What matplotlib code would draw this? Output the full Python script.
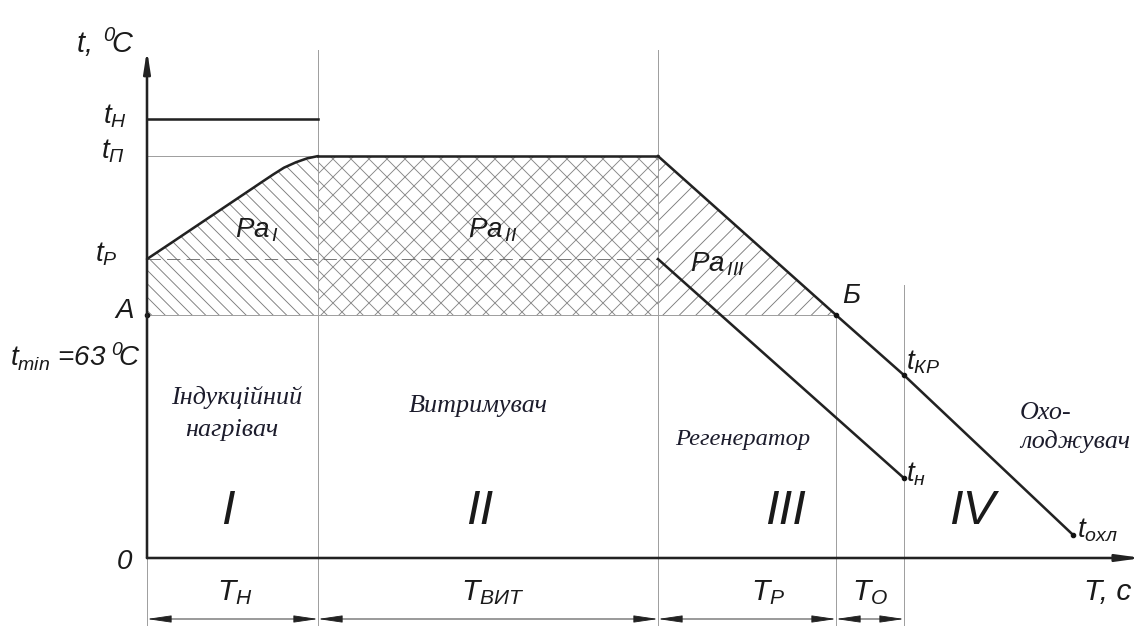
import matplotlib
matplotlib.use('Agg')
import matplotlib.pyplot as plt
import numpy as np
from matplotlib.patches import Polygon
from matplotlib.collections import LineCollection

# ---------------- data (schematic units: T in s, t in degC) ----------------
T_bounds = [0.0, 17.1, 51.1, 68.9, 75.7]           # zone boundaries (T_Н, T_ВИТ, T_Р, T_О)
t_N = 113.8                                         # t_Н  (heater medium)
t_Pi = 104.2                                        # t_П  (pasteurization)
t_Rg = 77.5                                         # t_Р  (after regeneration)
t_min = 63.0                                        # t_min
T_heat = [0.0, 2.6, 5.3, 8.0, 10.7, 11.5, 12.6, 13.7, 14.9, 16.0, 17.1]
t_heat = [77.5, 82.0, 86.7, 91.4, 96.1, 97.5, 99.4, 101.2, 102.6, 103.6, 104.2]
T_cool = [51.1, 68.9, 75.7, 92.6]                   # hot line: end of hold -> Б -> t_КР -> t_охл
t_cool = [104.2, 63.0, 47.4, 6.0]
T_prod = [51.1, 75.7]                               # product line t_Р -> t_н
t_prod = [77.5, 20.7]
T_axis_end, t_axis_end = 99.5, 131.7
zone_names = ['I', 'II', 'III', 'IV']

DPI = 80
plt.rcParams['mathtext.fontset'] = 'custom'
plt.rcParams['mathtext.it'] = 'Liberation Sans:italic'
plt.rcParams['mathtext.rm'] = 'Liberation Sans:italic'
plt.rcParams['mathtext.default'] = 'it'

fig = plt.figure(figsize=(1144 / DPI, 626 / DPI), dpi=DPI)
ax = fig.add_axes([0, 0, 1, 1])
X0, Y0, SX, SY = 147, 558, 10.0, 243 / 63


def px(x, y):
    return ((x - X0) / SX, (Y0 - y) / SY)


ax.set_xlim(px(0, 0)[0], px(1144, 0)[0])
ax.set_ylim(px(0, 626)[1], px(0, 0)[1])
ax.axis('off')

GRAY = '#a0a0a0'
HATCH = '#7a7a7a'
thin = 0.9
thick = 2.3
ybot = px(0, 626)[1]


def hatch(poly, spacing, dirs, color=HATCH, lw=0.8):
    patch = Polygon(poly, closed=True, facecolor='none', edgecolor='none')
    ax.add_patch(patch)
    segs = []
    for d in dirs:  # d=+1: '/' ; d=-1: '\'
        for c in np.arange(-1200, 2400, spacing):
            if d > 0:
                segs.append([px(0, c), px(1144, c - 1144)])
            else:
                segs.append([px(0, c), px(1144, c + 1144)])
    lc = LineCollection(segs, colors=color, linewidths=lw)
    ax.add_collection(lc)
    lc.set_clip_path(patch)


# hatched regions
poly1 = list(zip(T_heat, t_heat)) + [(T_bounds[1], t_min), (T_bounds[0], t_min)]
hatch(poly1, 13.5, [-1])
poly2 = [(T_bounds[1], t_min), (T_bounds[2], t_min), (T_bounds[2], t_Pi), (T_bounds[1], t_Pi)]
hatch(poly2, 18.0, [1, -1], color='#858585')
poly3 = [(T_cool[0], t_cool[0]), (T_cool[1], t_cool[1]), (T_bounds[2], t_min)]
hatch(poly3, 16.5, [1])

# thin gray guide lines
ax.plot([T_bounds[0], T_bounds[3]], [t_min, t_min], color=GRAY, lw=thin)
ax.plot([T_bounds[0], T_bounds[1]], [t_Pi, t_Pi], color=GRAY, lw=thin)
for Tb in T_bounds[1:3]:
    ax.plot([Tb, Tb], [ybot, t_axis_end], color=GRAY, lw=thin)
ax.plot([T_bounds[3], T_bounds[3]], [ybot, t_min], color=GRAY, lw=thin)
ax.plot([T_bounds[4], T_bounds[4]], [ybot, 70.8], color=GRAY, lw=thin)
ax.plot([T_bounds[0], T_bounds[0]], [ybot, 0], color=GRAY, lw=thin)
ax.plot([T_bounds[0], T_bounds[2]], [t_Rg, t_Rg], color='#6a6a6a', lw=0.8, dashes=(15, 7))

# main lines
ax.plot([T_bounds[0], T_bounds[1]], [t_N, t_N], color='#222222', lw=thick)
ax.plot(T_heat, t_heat, color='#222222', lw=thick, solid_capstyle='round', solid_joinstyle='round')
ax.plot([T_bounds[1], T_bounds[2]], [t_Pi, t_Pi], color='#222222', lw=thick)
ax.plot(T_cool, t_cool, color='#222222', lw=thick)
ax.plot(T_prod, t_prod, color='#222222', lw=thick)
ax.plot([T_bounds[0], T_cool[1], T_cool[2], T_prod[1], T_cool[3]],
        [t_min, t_cool[1], t_cool[2], t_prod[1], t_cool[3]],
        'o', color='#111111', ms=4)

# axes with arrows
ax.annotate('', xy=(T_bounds[0], t_axis_end), xytext=(T_bounds[0], 0),
            arrowprops=dict(arrowstyle='-|>,head_length=1.6,head_width=0.25', color='#222222', lw=thick,
                            shrinkA=0, shrinkB=0))
ax.annotate('', xy=(T_axis_end, 0), xytext=(T_bounds[0], 0),
            arrowprops=dict(arrowstyle='-|>,head_length=1.8,head_width=0.25', color='#222222', lw=thick,
                            shrinkA=0, shrinkB=0))

# dimension arrows
ydim = px(0, 619)[1]
for a, b in zip(T_bounds[:-1], T_bounds[1:]):
    ax.annotate('', xy=(b, ydim), xytext=(a, ydim),
                arrowprops=dict(arrowstyle='<|-|>,head_length=1.9,head_width=0.28', color='#222222',
                                lw=0.8, shrinkA=0, shrinkB=0))

# ---------------- texts ----------------
SANS = dict(family='Liberation Sans', style='italic', color='#1a1a1a')
SERIF = dict(family='Liberation Serif', style='italic', color='#1c1c2c')


def T(x, y, s, size, ha='left', **kw):
    d = dict(SANS)
    d.update(kw)
    ax.text(*px(x, y), s, fontsize=size, ha=ha, va='baseline', **d)


T(76, 53, r'$t,\;{}^{0}\!C$', 26)
T(127, 124, r'$t_{Н}$', 25, ha='right')
T(125, 159, r'$t_{П}$', 25, ha='right')
T(118, 262, r'$t_{Р}$', 25, ha='right')
T(134, 318, 'A', 25, ha='right')
T(10, 367, r'$t_{min}$ =63$\;{}^{0}\!$C', 25)
T(132, 569, '0', 25, ha='right')

T(235, 238, r'$Pa_{\,I}$', 25)
T(468, 238, r'$Pa_{\,II}$', 25)
T(690, 272, r'$Pa_{\,III}$', 25)
T(842, 303, 'Б', 25)
T(906, 370, r'$t_{КР}$', 25)
T(906, 482, r'$t_{н}$', 25)
T(1077, 537, r'$t_{охл}$', 25)

for name, xc in zip(zone_names, [228, 480, 786, 972]):
    T(xc, 524, name, 44, ha='center')

T(235, 600, r'$T_{Н}$', 27, ha='center')
T(493, 600, r'$T_{ВИТ}$', 27, ha='center')
T(768, 600, r'$T_{Р}$', 27, ha='center')
T(870, 600, r'$T_{О}$', 27, ha='center')
T(1084, 600, 'T, c', 27)

SZ = 23.5
ax.text(*px(237, 404), 'Індукційний', fontsize=SZ, ha='center', va='baseline', **SERIF)
ax.text(*px(232, 436), 'нагрівач', fontsize=SZ, ha='center', va='baseline', **SERIF)
ax.text(*px(478, 412), 'Витримувач', fontsize=SZ, ha='center', va='baseline', **SERIF)
ax.text(*px(743, 445), 'Регенератор', fontsize=SZ - 1.5, ha='center', va='baseline', **SERIF)
ax.text(*px(1020, 419), 'Охо-', fontsize=SZ, ha='left', va='baseline', **SERIF)
ax.text(*px(1020, 448), 'лоджувач', fontsize=SZ, ha='left', va='baseline', **SERIF)

fig.savefig('out.png', dpi=DPI, facecolor='white')
